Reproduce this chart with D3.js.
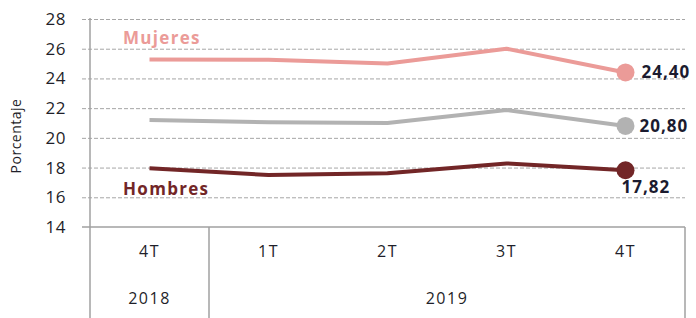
<!DOCTYPE html>
<meta charset="utf-8">
<script src="https://d3js.org/d3.v7.min.js"></script>
<style>
  body { margin: 0; background: #fff; }
  text { font-family: "Open Sans", "Liberation Sans", sans-serif; }
</style>
<div id="my_dataviz"></div>
<script>

  // categories and series values
  var quarters = ["4T", "1T", "2T", "3T", "4T"];
  var years = [{ label: "2018", from: 0, to: 1 }, { label: "2019", from: 1, to: 5 }];
  var mujeres = [25.28, 25.25, 25.0, 26.0, 24.40];
  var total = [21.2, 21.05, 21.0, 21.87, 20.80];
  var hombres = [17.95, 17.5, 17.62, 18.28, 17.82];
  var yTicks = [14, 16, 18, 20, 22, 24, 26, 28];

  var W = 696, H = 318;
  var svg = d3.select("#my_dataviz")
    .append("svg")
      .attr("width", W)
      .attr("height", H);

  var margin = {left: 90, right: 685, top: 19, bottom: 227};

  var x = d3.scaleBand()
    .domain(d3.range(quarters.length))
    .range([margin.left, margin.right]);

  var y = d3.scaleLinear()
    .domain([14, 28])
    .range([margin.bottom, margin.top]);

  // gridlines
  svg.append("g")
    .selectAll("line")
    .data(yTicks.filter(function(d) { return d > 14; }))
    .enter()
    .append("line")
      .attr("x1", margin.left - 8)
      .attr("x2", margin.right)
      .attr("y1", function(d) { return y(d) + 0.5; })
      .attr("y2", function(d) { return y(d) + 0.5; })
      .style("stroke", "#a6a6a6")
      .style("stroke-width", 1)
      .style("stroke-dasharray", "4,2");

  // y tick labels
  svg.append("g")
    .selectAll("text")
    .data(yTicks)
    .enter()
    .append("text")
      .attr("x", 66)
      .attr("y", function(d) { return y(d) + 6; })
      .attr("text-anchor", "end")
      .style("font-size", "17px")
      .style("letter-spacing", "0.5px")
      .style("fill", "#1f1f2a")
      .text(function(d) { return d; });

  // y axis line + bottom line
  svg.append("line")
    .attr("x1", margin.left).attr("x2", margin.left)
    .attr("y1", margin.top - 1).attr("y2", H)
    .style("stroke", "#a0a0a0").style("stroke-width", 1.5);
  svg.append("line")
    .attr("x1", margin.left - 8).attr("x2", margin.right)
    .attr("y1", margin.bottom).attr("y2", margin.bottom)
    .style("stroke", "#a0a0a0").style("stroke-width", 1.5);

  // category box lines and year labels
  years.forEach(function(yr) {
    var xe = yr.to < quarters.length ? x(yr.to) : margin.right;
    svg.append("line")
      .attr("x1", xe).attr("x2", xe)
      .attr("y1", margin.bottom).attr("y2", H)
      .style("stroke", "#a0a0a0").style("stroke-width", 1.5);
    svg.append("text")
      .attr("x", (x(yr.from) + xe) / 2)
      .attr("y", 304)
      .attr("text-anchor", "middle")
      .style("font-size", "16px")
      .style("letter-spacing", "1.5px")
      .style("fill", "#1f1f2a")
      .text(yr.label);
  });

  svg.append("g")
    .selectAll("text")
    .data(quarters)
    .enter()
    .append("text")
      .attr("x", function(d, i) { return x(i) + x.bandwidth() / 2; })
      .attr("y", 257)
      .attr("text-anchor", "middle")
      .style("font-size", "16px")
      .style("letter-spacing", "1.5px")
      .style("fill", "#1f1f2a")
      .text(function(d) { return d; });

  // y axis title
  svg.append("text")
    .attr("transform", "translate(21,136) rotate(-90)")
    .attr("text-anchor", "middle")
    .style("font-size", "14px")
    .style("letter-spacing", "0.5px")
    .style("fill", "#1f1f2a")
    .text("Porcentaje");

  // lines
  var line = d3.line()
    .x(function(d, i) { return x(i) + x.bandwidth() / 2; })
    .y(function(d) { return y(d); });

  var series = [
    { values: mujeres, color: "#eb9b98", label: "24,40", dx: 16, dy: 6 },
    { values: total, color: "#b2b2b2", label: "20,80", dx: 14, dy: 6 },
    { values: hombres, color: "#722627", label: "17,82", dx: -4, dy: 23 }
  ];

  series.forEach(function(s) {
    svg.append("path")
      .datum(s.values)
      .attr("d", line)
      .style("fill", "none")
      .style("stroke", s.color)
      .style("stroke-width", 4)
      .style("stroke-linejoin", "round");
    var last = s.values.length - 1;
    svg.append("circle")
      .attr("cx", x(last) + x.bandwidth() / 2)
      .attr("cy", y(s.values[last]))
      .attr("r", 9)
      .style("fill", s.color);
    svg.append("text")
      .attr("x", x(last) + x.bandwidth() / 2 + s.dx)
      .attr("y", y(s.values[last]) + s.dy)
      .style("font-size", "17px")
      .style("font-weight", "bold")
      .style("letter-spacing", "1px")
      .style("fill", "#1b1b2f")
      .text(s.label);
  });

  // series labels
  svg.append("text")
    .attr("x", 123).attr("y", 44)
    .style("font-size", "17px").style("font-weight", "bold")
    .style("letter-spacing", "1.3px")
    .style("fill", "#eb9b98")
    .text("Mujeres");
  svg.append("text")
    .attr("x", 123).attr("y", 195)
    .style("font-size", "17px").style("font-weight", "bold")
    .style("letter-spacing", "1.3px")
    .style("fill", "#722627")
    .text("Hombres");

</script>
